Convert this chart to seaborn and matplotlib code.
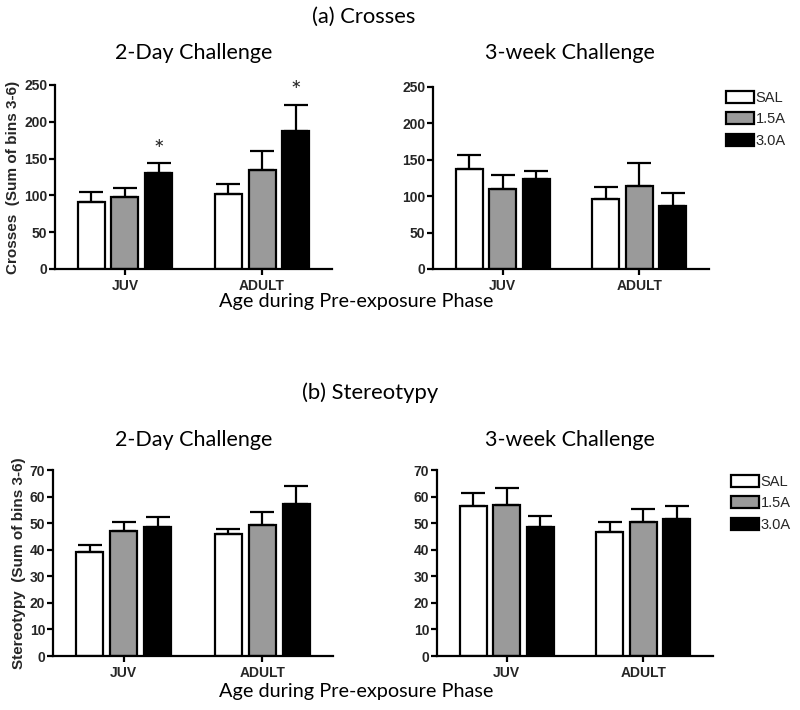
import numpy as np
import pandas as pd
import matplotlib
matplotlib.use("Agg")
import matplotlib.pyplot as plt
import seaborn as sns

# ---------------- data ----------------
ages = ["JUV", "ADULT"]
doses = ["SAL", "1.5A", "3.0A"]

# order: JUV SAL, JUV 1.5A, JUV 3.0A, ADULT SAL, ADULT 1.5A, ADULT 3.0A
crosses_2day_mean = [91, 98, 130, 102, 134.5, 187.5]
crosses_2day_sem = [13.5, 11.5, 13.5, 13, 25.5, 35.5]
crosses_3wk_mean = [138, 110, 124, 96, 113.5, 86]
crosses_3wk_sem = [19, 18.5, 11, 17, 32, 19]
stereo_2day_mean = [39.2, 47.2, 48.5, 46, 49.3, 57.2]
stereo_2day_sem = [2.6, 3.1, 3.7, 1.7, 4.8, 6.9]
stereo_3wk_mean = [56.6, 57, 48.7, 46.8, 50.5, 51.6]
stereo_3wk_sem = [4.6, 6.1, 4.0, 3.7, 4.8, 5.0]

crosses_ticks = [0, 50, 100, 150, 200, 250]
stereo_ticks = [0, 10, 20, 30, 40, 50, 60, 70]

# significance markers (age, dose) for 2-day crosses
crosses_2day_sig = [("JUV", "3.0A"), ("ADULT", "3.0A")]

# ---------------- style ----------------
sns.set_theme(style="ticks")
plt.rcParams["font.family"] = ["Liberation Sans", "DejaVu Sans"]
TITLE_FONT = ["Lato", "DejaVu Sans"]
TICK_COLOR = "#262626"
palette = ["#ffffff", "#9a9a9a", "#000000"]

W, H = 800, 710
fig = plt.figure(figsize=(8, 7.1), dpi=100)


def rect(x0, y_top, x1, y_bot):
    return [x0 / W, 1 - y_bot / H, (x1 - x0) / W, (y_bot - y_top) / H]


def make_df(mean, sem):
    rows = []
    k = 0
    for a in ages:
        for d in doses:
            rows.append({"age": a, "dose": d, "value": mean[k], "sem": sem[k]})
            k += 1
    return pd.DataFrame(rows)


def panel(r, mean, sem, ticks, ylabel=None, label_x=None, sig=None):
    ax = fig.add_axes(r)
    df = make_df(mean, sem)
    sns.barplot(data=df, x="age", y="value", hue="dose", order=ages,
                hue_order=doses, palette=palette, width=0.735, gap=0.2,
                edgecolor="black", linewidth=1.6, errorbar=None,
                legend=False, saturation=1, ax=ax)
    for i, d in enumerate(doses):
        cont = ax.containers[i]
        for j, a in enumerate(ages):
            bar = cont[j]
            x = bar.get_x() + bar.get_width() / 2
            y = bar.get_height()
            s = df[(df.age == a) & (df.dose == d)]["sem"].iloc[0]
            ax.errorbar([x], [y], yerr=[[0], [s]], fmt="none", ecolor="black",
                        elinewidth=1.6, capsize=8.5, capthick=1.6, zorder=1)
            if sig and (a, d) in sig:
                ax.annotate("*", xy=(x, y + s), xytext=(0, 1),
                            textcoords="offset points", ha="center",
                            va="bottom", fontsize=18, family=TITLE_FONT)
    ax.set_xlim(-0.51, 1.51)
    ax.set_ylim(ticks[0], ticks[-1])
    ax.set_yticks(ticks)
    ax.set_xlabel("")
    ax.set_ylabel("")
    for sp in ["top", "right"]:
        ax.spines[sp].set_visible(False)
    for sp in ["left", "bottom"]:
        ax.spines[sp].set_linewidth(1.6)
        ax.spines[sp].set_color("black")
    ax.tick_params(axis="both", direction="out", length=4, width=1.6,
                   color="black", labelsize=10, labelcolor=TICK_COLOR, pad=1.5)
    ax.tick_params(axis="x", pad=3)
    for lab in ax.get_xticklabels() + ax.get_yticklabels():
        lab.set_fontweight("bold")
    if ylabel:
        ax.set_ylabel(ylabel, fontsize=11, fontweight="bold", color=TICK_COLOR)
        ax.yaxis.set_label_coords(label_x, 0.5)
    return ax


ax1 = panel(rect(55, 85, 332, 269), crosses_2day_mean, crosses_2day_sem,
            crosses_ticks, "Crosses  (Sum of bins 3-6)", -0.126, crosses_2day_sig)
ax2 = panel(rect(433, 87, 709, 269), crosses_3wk_mean, crosses_3wk_sem,
            crosses_ticks)
ax3 = panel(rect(53, 470, 333, 656), stereo_2day_mean, stereo_2day_sem,
            stereo_ticks, "Stereotypy  (Sum of bins 3-6)", -0.096)
ax4 = panel(rect(437, 470, 713, 656), stereo_3wk_mean, stereo_3wk_sem,
            stereo_ticks)


def legend(ax, x, y):
    handles = [ax.containers[i][0] for i in range(len(doses))]
    fig.legend(handles=handles, labels=doses, loc="upper left",
               bbox_to_anchor=(x / W, 1 - y / H), frameon=False,
               fontsize=10.5, handlelength=1.9, handleheight=0.9,
               handletextpad=0.12, labelspacing=0.5, borderpad=0,
               borderaxespad=0, labelcolor=TICK_COLOR)


legend(ax2, 726, 91)
legend(ax4, 731, 475)


def ftext(x, y, s, size=15.5):
    fig.text(x / W, 1 - y / H, s, ha="center", va="center", fontsize=size,
             family=TITLE_FONT, color="black")


ftext(364, 17, "(a) Crosses", 15.8)
ftext(194, 53, "2-Day Challenge")
ftext(570, 53, "3-week Challenge")
ftext(356, 302, "Age during Pre-exposure Phase", 14.3)
ftext(370, 393, "(b) Stereotypy", 15.8)
ftext(194, 440, "2-Day Challenge")
ftext(570, 440, "3-week Challenge")
ftext(356, 692, "Age during Pre-exposure Phase", 14.3)

fig.savefig("out.png", dpi=100, facecolor="white")
